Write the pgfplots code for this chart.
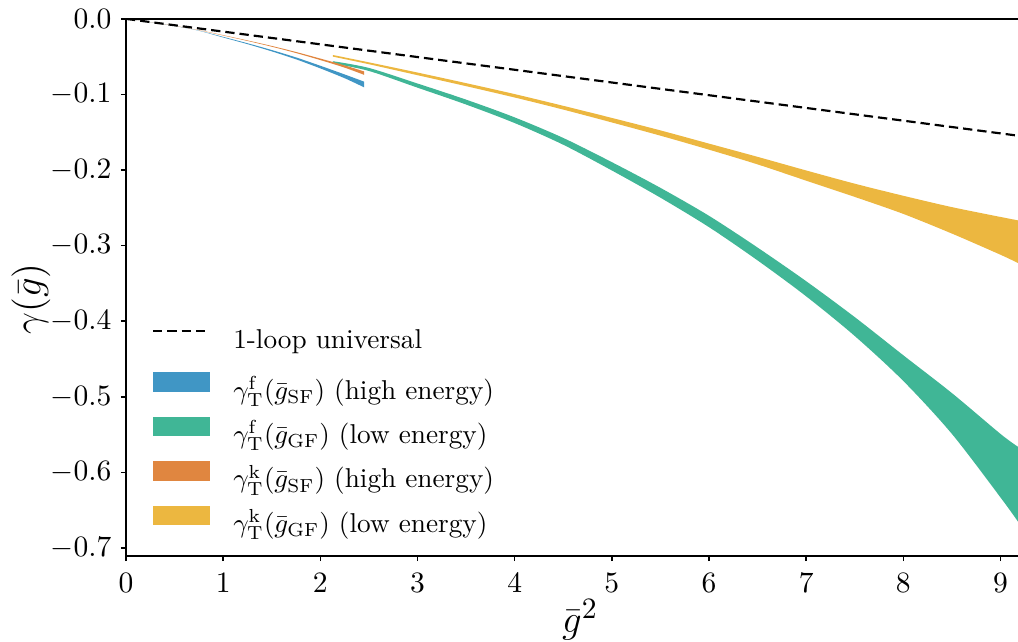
\documentclass[border=0pt]{standalone}
\usepackage{pgfplots}
\usepackage{pgfplotstable}
\pgfplotsset{compat=1.18}
\usepgfplotslibrary{fillbetween}
\definecolor{cblue}{RGB}{64,150,197}
\definecolor{cgreen}{RGB}{64,182,150}
\definecolor{corange}{RGB}{224,134,64}
\definecolor{cyellow}{RGB}{236,183,64}

\pgfplotstableread{
x up lo
0 0 0
0.25 -0.0044 -0.0044
0.5 -0.0094 -0.0095
0.75 -0.0155 -0.0157
1.0 -0.0238 -0.0246
1.25 -0.0322 -0.0334
1.5 -0.0412 -0.0430
1.75 -0.0510 -0.0535
2.0 -0.0620 -0.0655
2.25 -0.0735 -0.0785
2.45 -0.0830 -0.0905
}\blueband

\pgfplotstableread{
x up lo
0 0 0
0.25 -0.0043 -0.0043
0.5 -0.0092 -0.0093
0.75 -0.0148 -0.0150
1.0 -0.0215 -0.0220
1.25 -0.0285 -0.0292
1.5 -0.0358 -0.0368
1.75 -0.0438 -0.0452
2.0 -0.0525 -0.0545
2.25 -0.0615 -0.0645
2.45 -0.0695 -0.0740
}\orangeband

\pgfplotstableread{
x up lo
2.13 -0.0560 -0.0590
2.5 -0.0649 -0.0689
3.0 -0.0855 -0.0910
3.5 -0.1068 -0.1133
4.0 -0.1303 -0.1378
4.5 -0.1575 -0.1665
5.0 -0.1895 -0.2005
5.5 -0.2235 -0.2365
6.0 -0.2605 -0.2755
6.5 -0.3025 -0.3195
7.0 -0.3470 -0.3670
7.5 -0.3945 -0.4195
8.0 -0.4450 -0.4790
8.5 -0.4950 -0.5490
9.0 -0.5490 -0.6330
9.18 -0.5660 -0.6650
}\greenband

\pgfplotstableread{
x up lo
2.13 -0.0478 -0.0500
2.5 -0.0575 -0.0600
3.0 -0.0710 -0.0745
3.5 -0.0850 -0.0890
4.0 -0.0995 -0.1040
4.5 -0.1150 -0.1200
5.0 -0.1310 -0.1370
5.5 -0.1475 -0.1545
6.0 -0.1650 -0.1730
6.5 -0.1825 -0.1925
7.0 -0.2005 -0.2140
7.5 -0.2180 -0.2355
8.0 -0.2340 -0.2580
8.5 -0.2490 -0.2840
9.0 -0.2620 -0.3120
9.18 -0.2665 -0.3230
}\yellowband

\pgfplotsset{band/.style={fill=#1, draw=none,
  legend image code/.code={\fill[#1] (0pt,-0.85pt) rectangle (21pt,6.45pt);}}}

\begin{document}
\begin{tikzpicture}
\begin{axis}[
  scale only axis,
  width=330.4pt, height=198.9pt,
  xmin=0, xmax=9.18, ymin=-0.7103, ymax=0,
  separate axis lines,
  axis x line*=box, axis y line*=left,
  xtick pos=left, ytick pos=left,
  axis line style={line width=0.75pt, black},
  tick align=outside,
  major tick length=1.9pt,
  every tick/.style={black, line width=0.6pt},
  xtick={0,1,2,3,4,5,6,7,8,9},
  ytick={0,-0.1,-0.2,-0.3,-0.4,-0.5,-0.6,-0.7},
  yticklabel style={/pgf/number format/.cd, fixed, fixed zerofill, precision=1},
  ticklabel style={font=\fontsize{10.5}{12}\selectfont},
  xticklabel style={yshift=-1pt},
  xlabel={$\bar{g}^2$},
  ylabel={$\gamma(\bar{g})$},
  label style={font=\fontsize{15}{18}\selectfont},
  xlabel style={at={(axis description cs:0.5,0)}, anchor=center, yshift=-23.7pt, xshift=3pt},
  ylabel style={at={(axis description cs:0,0.5)}, anchor=center, yshift=35.2pt, xshift=-4.3pt},
  clip=true,
  legend style={draw=none, fill=none, at={(0,0)}, anchor=south west,
    xshift=9.63pt, yshift=5.2pt, inner sep=0pt, outer sep=0pt,
    font=\fontsize{10.1}{12}\selectfont,
    row sep=2.47pt, column sep=6.3pt},
  legend cell align=left,
]
\addplot[black, line width=0.8pt, dash pattern=on 3.45pt off 1.85pt,
  legend image code/.code={\draw[black, line width=0.8pt, dash pattern=on 3.45pt off 1.85pt] (0pt,5pt) -- (21pt,5pt);}]
  coordinates {(0,0) (9.18,-0.1545)};
\addlegendentry{\raisebox{2.2pt}{1-loop universal}}

\addplot[smooth, name path=bu, draw=none, forget plot] table[x=x, y=up] {\blueband};
\addplot[smooth, name path=bl, draw=none, forget plot] table[x=x, y=lo] {\blueband};
\addplot[smooth, name path=gu, draw=none, forget plot] table[x=x, y=up] {\greenband};
\addplot[smooth, name path=gl, draw=none, forget plot] table[x=x, y=lo] {\greenband};
\addplot[smooth, name path=ou, draw=none, forget plot] table[x=x, y=up] {\orangeband};
\addplot[smooth, name path=ol, draw=none, forget plot] table[x=x, y=lo] {\orangeband};
\addplot[smooth, name path=yu, draw=none, forget plot] table[x=x, y=up] {\yellowband};
\addplot[smooth, name path=yl, draw=none, forget plot] table[x=x, y=lo] {\yellowband};

\addplot[band=cblue] fill between[of=bu and bl];
\addlegendentry{$\gamma_{\mathrm{T}}^{\mathrm{f}}(\bar{g}_{\mathrm{SF}})$ (high energy)}
\addplot[band=cgreen] fill between[of=gu and gl];
\addlegendentry{$\gamma_{\mathrm{T}}^{\mathrm{f}}(\bar{g}_{\mathrm{GF}})$ (low energy)}
\addplot[band=corange] fill between[of=ou and ol];
\addlegendentry{$\gamma_{\mathrm{T}}^{\mathrm{k}}(\bar{g}_{\mathrm{SF}})$ (high energy)}
\addplot[band=cyellow] fill between[of=yu and yl];
\addlegendentry{$\gamma_{\mathrm{T}}^{\mathrm{k}}(\bar{g}_{\mathrm{GF}})$ (low energy)}
\end{axis}
\pgfresetboundingbox
\path[use as bounding box] (-46.67pt,-31.85pt) rectangle (330.4pt,205.9pt);
\end{tikzpicture}
\end{document}
